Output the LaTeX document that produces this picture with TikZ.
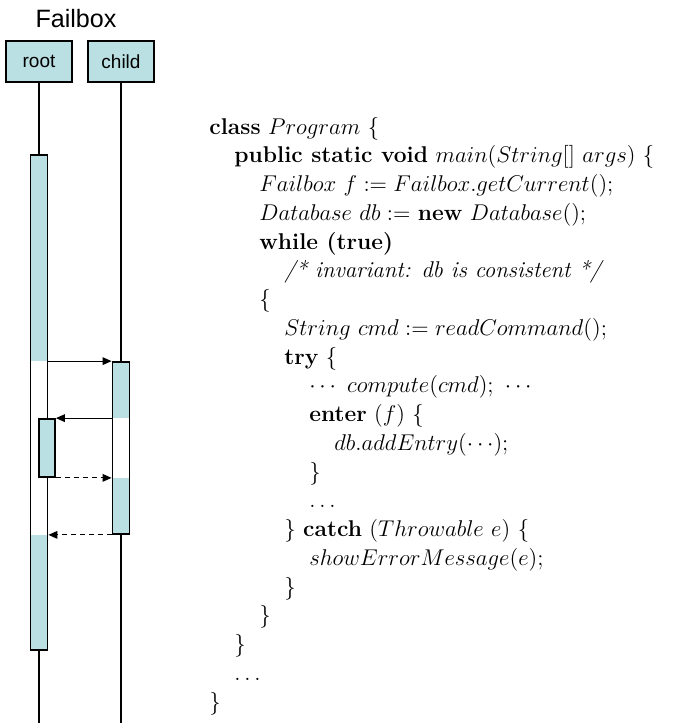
\documentclass[tikz,border=0pt]{standalone}
\usepackage{fontspec}
\usepackage{tikz}
\usetikzlibrary{arrows.meta,backgrounds}
\newfontfamily\arialfont{Liberation Sans}
\definecolor{boxblue}{RGB}{187,224,227}

\tikzset{
  lbox/.style={draw,fill=boxblue,line width=0.63pt,minimum width=34.74pt,minimum height=21.58pt,inner sep=0pt,font=\arialfont\fontsize{10}{12}\selectfont},
  bar/.style={draw,line width=0.95pt,inner sep=0pt,minimum width=8.95pt},
  life/.style={line width=0.63pt},
  call/.style={->,line width=0.63pt},
  ret/.style={->,line width=0.63pt,dash pattern=on 2.6pt off 2.1pt},
  code/.style={anchor=base west,inner sep=0pt,font=\fontsize{12}{14}\selectfont}
}

\begin{document}
\begin{tikzpicture}[x=0.5263pt,y=-0.5263pt,>={Triangle[length=4.7pt,width=4pt]}]
\useasboundingbox (0,0) rectangle (684,723);

% lifelines and activations
\node[font=\arialfont\fontsize{13.2}{15}\selectfont,anchor=base] (title) at (76,27) {Failbox};
\node[lbox] (root) at (39,61.5) {root};
\node[lbox] (child) at (121,61.5) {child};

\node[bar,minimum height=260.5pt] (rootbar) at (39,402.5) {};
\node[bar,minimum height=90.5pt] (childbar) at (121,448) {};
\node[bar,fill=boxblue,minimum width=8.42pt,minimum height=30.5pt] (innerbar) at (47,448) {};

\begin{scope}[on background layer]
\fill[boxblue] (rootbar.north west) rectangle (rootbar.east |- childbar.north);
\fill[boxblue] (rootbar.west |- childbar.south) rectangle (rootbar.south east);
\fill[boxblue] (childbar.north west) rectangle (childbar.east |- innerbar.north);
\fill[boxblue] (childbar.west |- innerbar.south) rectangle (childbar.south east);
\end{scope}

\coordinate (rootend) at (39,723);
\coordinate (childend) at (121,723);
\draw[life] (root) -- (rootbar);
\draw[life] (rootbar.south) -- (rootend);
\draw[life] (child) -- (childbar);
\draw[life] (childbar.south) -- (childend);

\draw[call] (rootbar.east |- childbar.north) -- (childbar.west |- childbar.north);
\draw[call] (childbar.west |- innerbar.north) -- (innerbar.north east);
\draw[ret] (innerbar.south east) -- (childbar.west |- innerbar.south);
\draw[ret] (childbar.west |- childbar.south) -- (rootbar.east |- childbar.south);

% the program
\node[code] (c1) at (209,134) {\textbf{class} $Program\ \{$};
\node[code] (c2) at (234,162.75) {\textbf{public static void} $main(String[]\ args)\ \{$};
\node[code] (c3) at (259,191.5) {$Failbox\ f := Failbox.getCurrent();$};
\node[code] (c4) at (259,220.25) {$Database\ db :=$ \textbf{new} $Database();$};
\node[code] (c5) at (259,249) {\textbf{while (true)}};
\node[code] (c6) at (284,277.75) {\textit{/* invariant: db is consistent */}};
\node[code] (c7) at (259,306.5) {$\{$};
\node[code] (c8) at (284,335.25) {$String\ cmd := readCommand();$};
\node[code] (c9) at (284,364) {\textbf{try} $\{$};
\node[code] (c10) at (309,392.75) {$\cdots\ compute(cmd);\ \cdots$};
\node[code] (c11) at (309,421.5) {\textbf{enter} $(f)\ \{$};
\node[code] (c12) at (334,450.25) {$db.addEntry(\cdots);$};
\node[code] (c13) at (309,479) {$\}$};
\node[code] (c14) at (309,507.75) {$\ldots$};
\node[code] (c15) at (284,536.5) {$\}$ \textbf{catch} $(Throwable\ e)\ \{$};
\node[code] (c16) at (309,565.25) {$showErrorMessage(e);$};
\node[code] (c17) at (284,594) {$\}$};
\node[code] (c18) at (259,622.75) {$\}$};
\node[code] (c19) at (234,651.5) {$\}$};
\node[code] (c20) at (234,680.25) {$\ldots$};
\node[code] (c21) at (209,709) {$\}$};

\end{tikzpicture}
\end{document}
